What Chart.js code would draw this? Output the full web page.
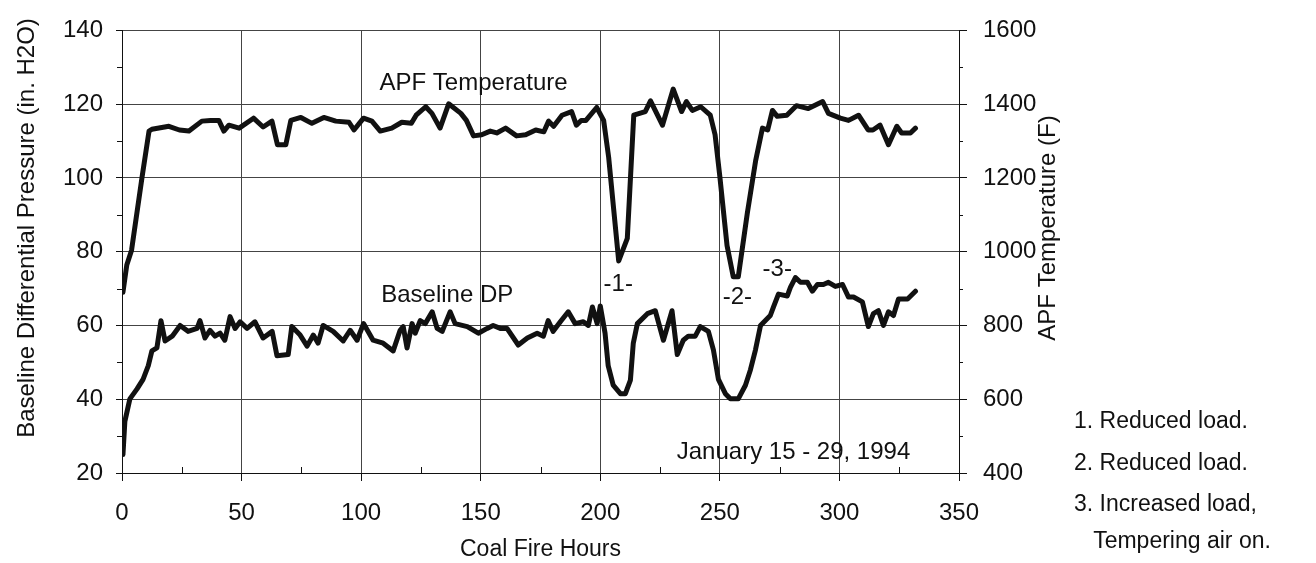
<!DOCTYPE html>
<html>
<head>
<meta charset="utf-8">
<script src="https://cdn.jsdelivr.net/npm/chart.js@4/dist/chart.umd.min.js"></script>
<style>
  html, body { margin: 0; padding: 0; background: #fff; }
  #wrap { width: 1316px; height: 563px; }
</style>
</head>
<body>
<div id="wrap"><canvas id="grafico" width="1316" height="563"></canvas></div>
<script>
// APF temperature (F)
const horasTemp = [0.4, 2, 4, 8.4, 11.3, 12.5, 19.6, 24, 28, 33.4, 37, 40.5, 42.6, 44.7, 49, 55, 59, 62.7, 65, 68.5,
  70.6, 74.8, 79.4, 84.4, 89.4, 94.9, 97, 101, 104.5, 108, 112.8, 117, 121, 123, 127, 129.6, 133, 136.6, 141.7, 144,
  147, 150.4, 154, 156.7, 160.4, 165, 168.8, 173, 176.4, 178.4, 180.5, 184, 188, 190, 192, 194, 198.5, 201.4, 203.5, 205.6,
  207.7, 211.3, 214, 218.8, 221, 226, 230.5, 234, 236, 238.5, 242, 246, 248, 250, 253, 255.6, 257.7, 261.5, 265, 267.8,
  270, 272, 274, 278, 282, 287, 293, 295.4, 300.4, 303.8, 308, 312, 314, 317, 320.5, 324, 326, 329.7, 331.8];
const tempAPF = [890, 964, 1004, 1203, 1327, 1332, 1340, 1330, 1327, 1354, 1356, 1356, 1327, 1343, 1335, 1362, 1338, 1354, 1290, 1290,
  1356, 1364, 1348, 1364, 1354, 1351, 1330, 1362, 1354, 1327, 1335, 1351, 1348, 1370, 1393, 1375, 1335, 1401, 1375, 1356,
  1314, 1317, 1327, 1322, 1335, 1314, 1317, 1330, 1325, 1354, 1340, 1370, 1380, 1343, 1356, 1356, 1391, 1356, 1256, 1115,
  975, 1036, 1370, 1380, 1409, 1343, 1441, 1380, 1407, 1383, 1393, 1370, 1317, 1203, 1017, 932, 932, 1105, 1248, 1335,
  1330, 1383, 1367, 1370, 1396, 1388, 1407, 1375, 1362, 1356, 1370, 1330, 1330, 1343, 1290, 1340, 1322, 1322, 1335];

// Baseline differential pressure (in. H2O)
const horasDP = [0.4, 1.2, 3.3, 6.3, 8.8, 11, 12.5, 14.6, 16.3, 18, 21, 24.3, 27.6, 31.4, 32.6, 34.7, 36.8, 38.9, 41, 43,
  45.2, 47.3, 49.4, 52.3, 55.6, 59, 62.8, 64.8, 69.5, 71, 74.5, 77.4, 80, 82, 84.1, 88.3, 92.5, 95.4, 98.3, 101,
  105, 109.2, 113.4, 116.3, 117.6, 119.2, 121.3, 122.6, 124.7, 126.8, 129.7, 131.8, 133.9, 137.2, 139.3, 144.4, 149, 152.7, 155.2, 158.2,
  161, 165.7, 169.5, 173.6, 176.2, 178.2, 180.3, 183.3, 186.6, 189.5, 192.9, 195, 196.7, 198.7, 200, 202, 203.3, 205.4, 208.4, 210.5,
  212.6, 213.8, 215.5, 219.7, 223, 226.4, 230, 232.2, 234.7, 236.8, 239.7, 241.8, 245.2, 247.3, 249.4, 252.3, 254.4, 257.7, 260.7, 262.8,
  264.9, 267, 271.1, 272.4, 274.5, 278.2, 279.5, 281.6, 283.7, 286.6, 288.7, 290.8, 293.3, 295.4, 298.3, 301.3, 303.8, 305.9, 309.6, 312.1,
  314.2, 316.3, 318.4, 320.5, 322.6, 324.7, 328.5, 331.8];
const presionDP = [25, 34, 40.1, 42.8, 45.4, 49.1, 53.1, 53.9, 61.3, 55.8, 57.1, 60, 58.4, 59.2, 61.3, 56.6, 58.7, 57.1, 57.9, 56,
  62.4, 59.2, 61, 59.2, 61, 56.6, 58.4, 51.8, 52.1, 59.7, 57.4, 54.4, 57.4, 55.2, 60, 58.4, 55.8, 58.7, 56, 60.5,
  56, 55.2, 53.1, 58.7, 59.7, 53.9, 60.5, 57.9, 61.3, 60.5, 63.7, 59.2, 58.4, 63.7, 60.5, 59.7, 57.9, 59.2, 60, 59.2,
  59.2, 54.7, 56.6, 57.9, 57.1, 61.3, 58.4, 61, 63.7, 60.5, 61, 60, 65, 60.5, 65.3, 57.9, 49.1, 43.8, 41.5, 41.5,
  45.2, 55.2, 60.5, 63.2, 64, 56, 64, 52.1, 56, 57.1, 57.1, 59.7, 58.4, 53.4, 45.4, 41.5, 40.1, 40.1, 43.8, 48,
  53.4, 60, 62.7, 65, 68.5, 68, 70.3, 73, 71.7, 71.7, 69.3, 71.1, 71.1, 71.7, 70.6, 71.1, 67.7, 67.7, 66.4, 59.7,
  63.2, 64, 60, 63.7, 62.7, 67.2, 67.2, 69.3];

const ticksX = [0, 50, 100, 150, 200, 250, 300, 350];
const ticksDP = [20, 40, 60, 80, 100, 120, 140];
const ticksTemp = [400, 600, 800, 1000, 1200, 1400, 1600];

const fuente = '"Liberation Sans", Arial, Helvetica, sans-serif';
const negro = '#111';

// texto sobre el grafico, en coordenadas de datos (hora, escala izquierda)
const etiquetas = [
  { texto: 'APF Temperature', x: 147, y: 125.7 },
  { texto: 'Baseline DP', x: 136, y: 68.2 },
  { texto: '-1-', x: 207.5, y: 71.1 },
  { texto: '-2-', x: 257.3, y: 67.7 },
  { texto: '-3-', x: 274, y: 75.1 },
  { texto: 'January 15 - 29, 1994', x: 280.8, y: 25.6 }
];
const notas = ['1. Reduced load.', '2. Reduced load.', '3. Increased load,', '   Tempering air on.'];

const extras = {
  id: 'extras',
  afterDraw(chart) {
    const ctx = chart.ctx;
    const sx = chart.scales.x, sy = chart.scales.y, sy2 = chart.scales.y2;
    const area = chart.chartArea;
    ctx.save();
    ctx.strokeStyle = negro;
    ctx.lineWidth = 1;
    ctx.beginPath();
    // marcas menores
    for (let v = 30; v < 140; v += 20) {
      const p = Math.round(sy.getPixelForValue(v)) + 0.5;
      ctx.moveTo(area.left - 5, p); ctx.lineTo(area.left, p);
    }
    for (let v = 500; v < 1600; v += 200) {
      const p = Math.round(sy2.getPixelForValue(v)) + 0.5;
      ctx.moveTo(area.right, p); ctx.lineTo(area.right + 4, p);
    }
    for (let v = 25; v < 350; v += 50) {
      const p = Math.round(sx.getPixelForValue(v)) + 0.5;
      ctx.moveTo(p, area.bottom); ctx.lineTo(p, area.bottom - 6);
    }
    ctx.stroke();

    ctx.fillStyle = negro;
    ctx.font = '24px ' + fuente;
    ctx.textAlign = 'center';
    ctx.textBaseline = 'middle';
    etiquetas.forEach(e => {
      ctx.fillText(e.texto, sx.getPixelForValue(e.x), sy.getPixelForValue(e.y));
    });

    // titulos de los ejes verticales
    ctx.font = '24px ' + fuente;
    ctx.save();
    ctx.translate(27, 228);
    ctx.rotate(-Math.PI / 2);
    ctx.fillText('Baseline Differential Pressure (in. H2O)', 0, 0);
    ctx.restore();
    ctx.save();
    ctx.translate(1048, 228);
    ctx.rotate(-Math.PI / 2);
    ctx.fillText('APF Temperature (F)', 0, 0);
    ctx.restore();

    // notas a la derecha
    ctx.font = '23px ' + fuente;
    ctx.textAlign = 'left';
    const ys = [422, 464, 505, 542];
    notas.forEach((n, i) => ctx.fillText(n, 1074, ys[i]));
    ctx.restore();
  }
};

new Chart(document.getElementById('grafico'), {
  type: 'line',
  data: {
    datasets: [
      {
        label: 'APF Temperature',
        data: horasTemp.map((h, i) => ({ x: h, y: tempAPF[i] })),
        yAxisID: 'y2',
        borderColor: negro,
        borderWidth: 5,
        pointRadius: 0,
        tension: 0,
        borderJoinStyle: 'round',
        borderCapStyle: 'round'
      },
      {
        label: 'Baseline DP',
        data: horasDP.map((h, i) => ({ x: h, y: presionDP[i] })),
        yAxisID: 'y',
        borderColor: negro,
        borderWidth: 5,
        pointRadius: 0,
        tension: 0,
        borderJoinStyle: 'round',
        borderCapStyle: 'round'
      }
    ]
  },
  options: {
    responsive: false,
    animation: false,
    devicePixelRatio: 1,
    layout: { padding: { left: 0, right: 247, top: 20, bottom: 0 } },
    plugins: { legend: { display: false }, tooltip: { enabled: false } },
    scales: {
      x: {
        type: 'linear',
        min: 0, max: 350,
        afterBuildTicks: s => { s.ticks = ticksX.map(v => ({ value: v })); },
        afterFit: s => { s.height = 90; },
        ticks: { color: negro, font: { family: fuente, size: 24 }, padding: 18, maxRotation: 0, callback: v => String(v) },
        grid: { color: '#444', lineWidth: 1, tickLength: 8, tickColor: negro },
        border: { color: negro, width: 1 },
        title: { display: true, text: 'Coal Fire Hours', color: negro, font: { family: fuente, size: 23 }, padding: { top: 0, bottom: 0 } }
      },
      y: {
        position: 'left',
        min: 20, max: 140,
        afterBuildTicks: s => { s.ticks = ticksDP.map(v => ({ value: v })); },
        afterFit: s => { s.width = 122; },
        ticks: { color: negro, font: { family: fuente, size: 24 }, padding: 13, callback: v => String(v) },
        grid: { color: '#444', lineWidth: 1, tickLength: 6, tickColor: negro },
        border: { color: negro, width: 1 }
      },
      y2: {
        position: 'right',
        min: 400, max: 1600,
        afterBuildTicks: s => { s.ticks = ticksTemp.map(v => ({ value: v })); },
        afterFit: s => { s.width = 110; },
        ticks: { color: negro, font: { family: fuente, size: 24 }, padding: 16, callback: v => String(v) },
        grid: { drawOnChartArea: false, tickLength: 8, tickColor: negro },
        border: { color: negro, width: 1 }
      }
    }
  },
  plugins: [extras]
});
</script>
</body>
</html>
